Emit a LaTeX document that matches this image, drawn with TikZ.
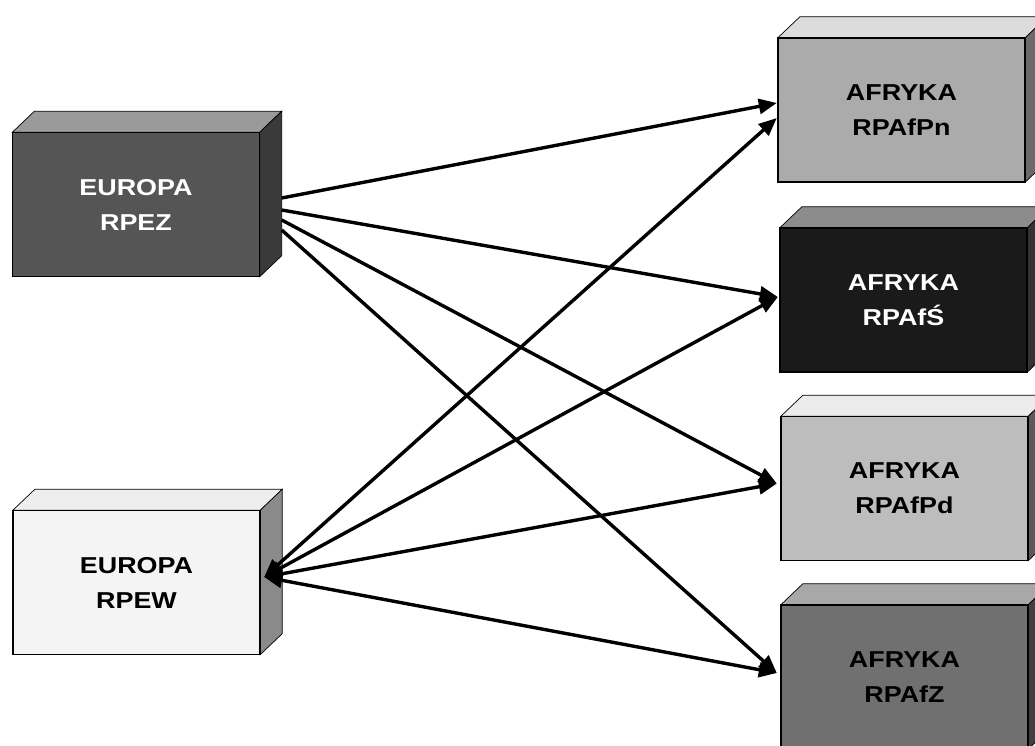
\documentclass[tikz,border=0pt]{standalone}
\usepackage{fontspec}
\usetikzlibrary{arrows.meta}
\newfontfamily\napis[FakeStretch=1.17]{Liberation Sans}
\definecolor{ezprzod}{HTML}{555555}\definecolor{ezgora}{HTML}{9A9A9A}\definecolor{ezbok}{HTML}{3A3A3A}
\definecolor{ewprzod}{HTML}{F4F4F4}\definecolor{ewgora}{HTML}{EEEEEE}\definecolor{ewbok}{HTML}{8A8A8A}
\definecolor{pnprzod}{HTML}{ABABAB}\definecolor{pngora}{HTML}{DCDCDC}\definecolor{pnbok}{HTML}{6A6A6A}
\definecolor{sprzod}{HTML}{1A1A1A}\definecolor{sgora}{HTML}{8C8C8C}\definecolor{sbok}{HTML}{333333}
\definecolor{pdprzod}{HTML}{BDBDBD}\definecolor{pdgora}{HTML}{ECECEC}\definecolor{pdbok}{HTML}{5A5A5A}
\definecolor{zprzod}{HTML}{707070}\definecolor{zgora}{HTML}{A8A8A8}\definecolor{zbok}{HTML}{404040}
\newcommand{\kostka}[7]{\node[blok, fill=#3, text=#6] (#1) at #2 {#7};
\filldraw[sciana, fill=#4] (#1.north west) -- ++(22,-21) -- ([shift={(22,-21)}]#1.north east) -- (#1.north east) -- cycle;
\filldraw[sciana, fill=#5] (#1.north east) -- ++(22,-21) -- ([shift={(22,-21)}]#1.south east) -- (#1.south east) -- cycle;
\draw[line width=1.5pt] (#1.south west) rectangle (#1.north east);}
\tikzset{blok/.style={minimum width=247pt, minimum height=144pt, inner sep=0pt, align=center, font=\napis\bfseries\fontsize{23}{35}\selectfont},
  sciana/.style={line width=0.7pt},
  grot/.tip={Triangle[length=18pt,width=15pt]},
  strz/.style={-grot, line width=3.4pt},
  strzdwa/.style={grot-grot, line width=3.4pt}}
\begin{document}
\begin{tikzpicture}[x=1pt, y=-1pt]
\path[use as bounding box] (0,0) rectangle (1035,746);
\clip (0,0) rectangle (1035,746);
% Europa
\kostka{rpez}{(136,204.5)}{ezprzod}{ezgora}{ezbok}{white}{EUROPA\\RPEZ}
\kostka{rpew}{(136.5,582.5)}{ewprzod}{ewgora}{ewbok}{black}{EUROPA\\RPEW}
% Afryka
\kostka{afpn}{(901.5,110)}{pnprzod}{pngora}{pnbok}{black}{AFRYKA\\RPAfPn}
\kostka{afs}{(903.5,300)}{sprzod}{sgora}{sbok}{white}{AFRYKA\\RPAfŚ}
\kostka{afpd}{(904.5,488.5)}{pdprzod}{pdgora}{pdbok}{black}{AFRYKA\\RPAfPd}
\kostka{afz}{(904.5,677)}{zprzod}{zgora}{zbok}{black}{AFRYKA\\RPAfZ}
% powiazania
\draw[strz] ([shift={(22,-6.5)}]rpez.east) -- ([shift={(-1,-7)}]afpn.west);
\draw[strz] ([shift={(22,5.5)}]rpez.east) -- ([shift={(-2,-3)}]afs.west);
\draw[strz] ([shift={(22,15.5)}]rpez.east) -- ([shift={(-4,-5)}]afpd.west);
\draw[strz] ([shift={(22,25.5)}]rpez.east) -- ([shift={(-4,-4)}]afz.west);
\draw[strzdwa] ([shift={(4,-5.5)}]rpew.east) -- ([shift={(-1,8)}]afpn.west);
\draw[strzdwa] ([shift={(4,-5.5)}]rpew.east) -- ([shift={(-2,-3)}]afs.west);
\draw[strzdwa] ([shift={(4,-5.5)}]rpew.east) -- ([shift={(-4,-5)}]afpd.west);
\draw[strzdwa] ([shift={(4,-5.5)}]rpew.east) -- ([shift={(-4,-4)}]afz.west);
\end{tikzpicture}
\end{document}
